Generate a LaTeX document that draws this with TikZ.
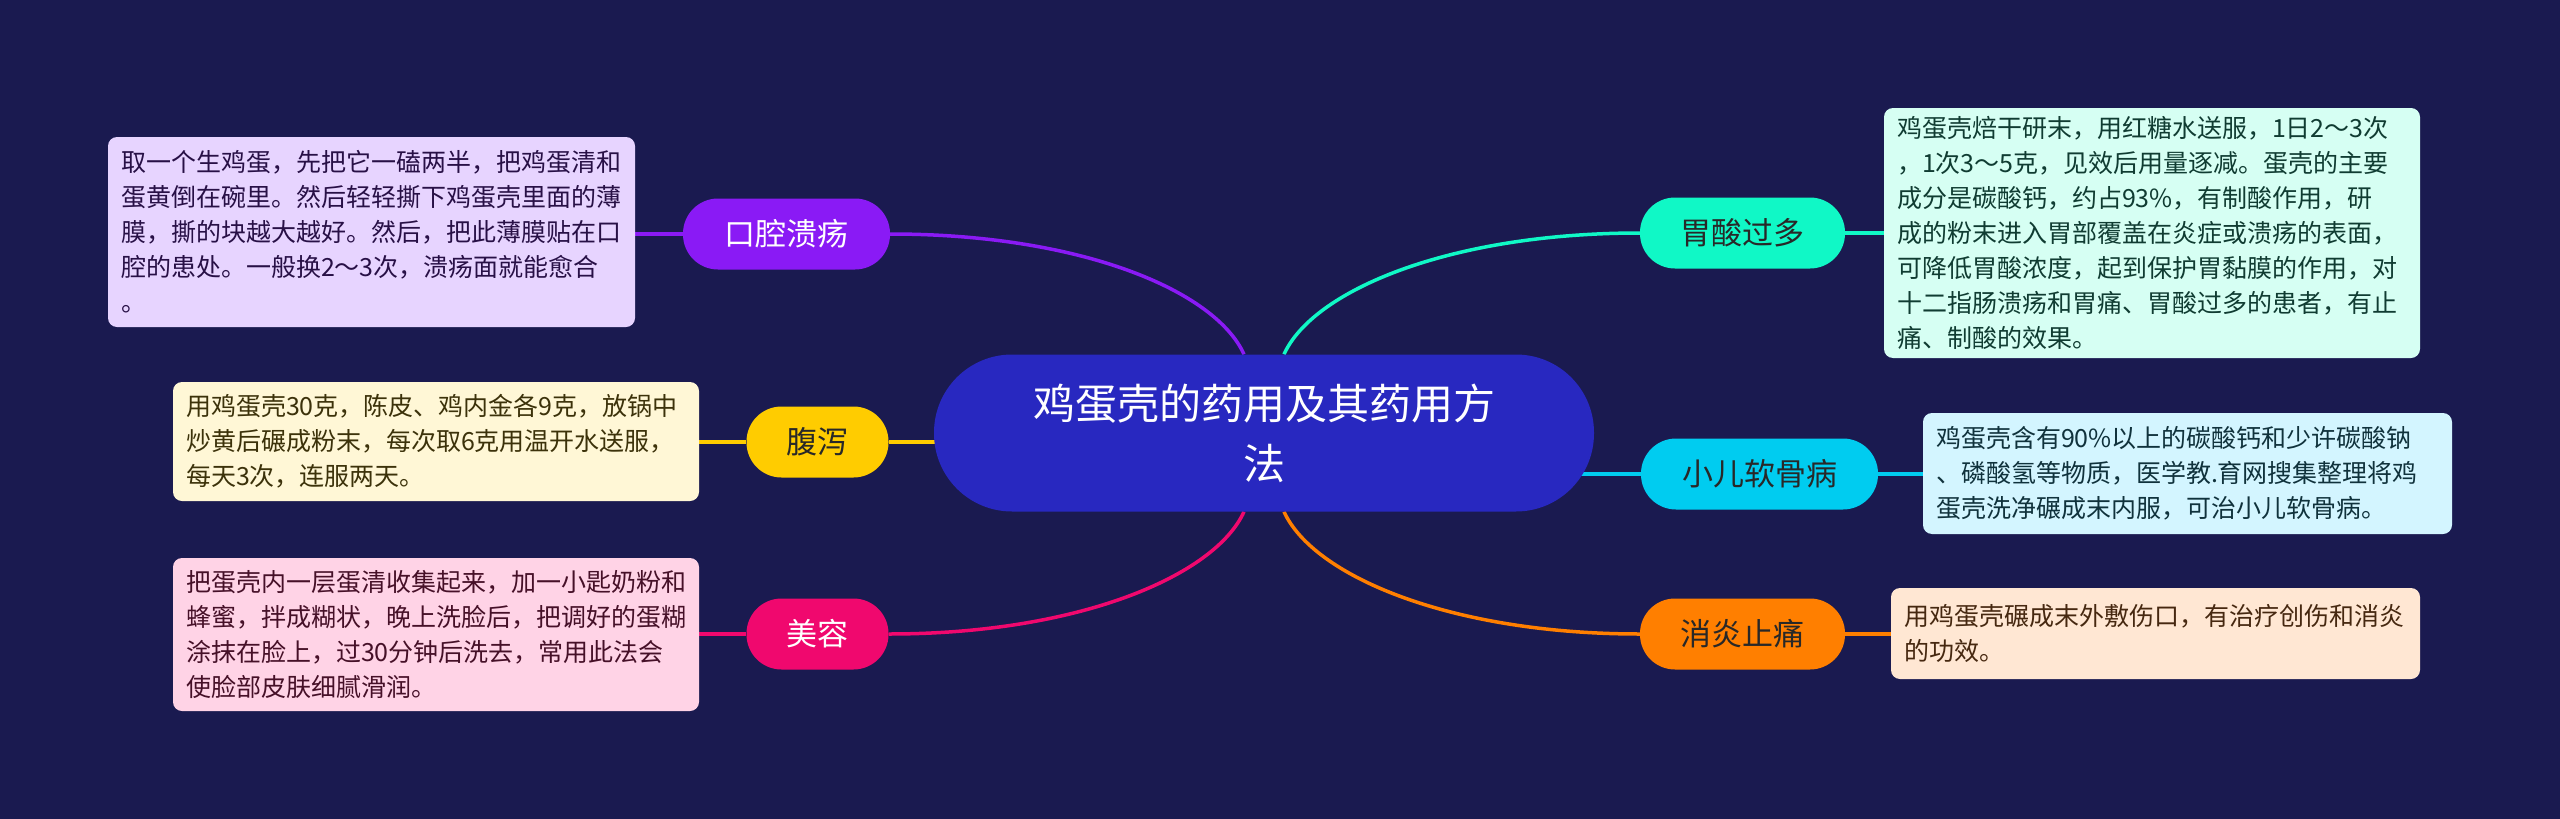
\documentclass[tikz,border=0pt]{standalone}
\usepackage{fontspec}
\setmainfont{Noto Sans CJK SC}
\usetikzlibrary{calc}
\pgfdeclarelayer{back}
\pgfdeclarelayer{bg}
\pgfsetlayers{back,bg,main}
\definecolor{bgnavy}{RGB}{26,26,80}
\definecolor{cmain}{RGB}{40,40,192}
\definecolor{cpurple}{RGB}{138,26,245}
\definecolor{cyellow}{RGB}{255,204,0}
\definecolor{cpink}{RGB}{240,8,110}
\definecolor{cteal}{RGB}{16,248,198}
\definecolor{ccyan}{RGB}{0,204,240}
\definecolor{corange}{RGB}{255,127,0}
\definecolor{lpurple}{RGB}{231,212,255}
\definecolor{lyellow}{RGB}{255,247,214}
\definecolor{lpink}{RGB}{255,211,230}
\definecolor{lteal}{RGB}{214,255,243}
\definecolor{lcyan}{RGB}{211,245,255}
\definecolor{lorange}{RGB}{255,231,211}
\definecolor{tpurple}{RGB}{40,16,70}
\definecolor{tyellow}{RGB}{60,50,10}
\definecolor{tpink}{RGB}{70,16,40}
\definecolor{tteal}{RGB}{16,60,50}
\definecolor{tcyan}{RGB}{16,50,60}
\definecolor{torange}{RGB}{70,40,16}
\definecolor{tdark}{RGB}{40,40,40}
\begin{document}
\begin{tikzpicture}[x=1pt,y=-1pt,
  centralbox/.style={fill=cmain, rounded corners=78pt, minimum width=660pt,
    minimum height=157pt, text=white, font=\fontsize{42}{60}\selectfont,
    align=center, inner sep=0pt},
  branchbox/.style={rounded corners=35pt, minimum height=71pt, inner xsep=40pt,
    inner ysep=0pt, font=\fontsize{31}{36}\selectfont},
  leafbox/.style={rounded corners=9pt, align=left, font=\fontsize{25}{35}\selectfont,
    inner xsep=13pt, inner ysep=0pt},
  link/.style={line width=3.5pt}
]
\begin{pgfonlayer}{back}
\fill[bgnavy] (0,0) rectangle (2560,819);
\end{pgfonlayer}
\useasboundingbox (0,0) rectangle (2560,819);

% central
\node[centralbox] (c) at (1264,433) {鸡蛋壳的药用及其药用方\\法};

% branches
\node[branchbox, fill=cpurple, text=white, minimum width=207pt] (b1) at (786.5,234) {口腔溃疡};
\node[branchbox, fill=cyellow, text=tdark, minimum width=139pt] (b2) at (817.5,442) {腹泻};
\node[branchbox, fill=cpink, text=white, minimum width=139pt] (b3) at (817.5,634) {美容};
\node[branchbox, fill=cteal, text=tdark, minimum width=205pt] (b4) at (1742.5,233) {胃酸过多};
\node[branchbox, fill=ccyan, text=tdark, minimum width=237pt] (b5) at (1759.5,474) {小儿软骨病};
\node[branchbox, fill=corange, text=tdark, minimum width=205pt] (b6) at (1742.5,634) {消炎止痛};

% leaves
\node[leafbox, fill=lpurple, text=tpurple, text width=501pt, minimum height=190pt] (l1) at (371.5,232)
  {取一个生鸡蛋，先把它一磕两半，把鸡蛋清和\\蛋黄倒在碗里。然后轻轻撕下鸡蛋壳里面的薄\\膜，撕的块越大越好。然后，把此薄膜贴在口\\腔的患处。一般换2～3次，溃疡面就能愈合\\。};
\node[leafbox, fill=lyellow, text=tyellow, text width=500pt, minimum height=119pt] (l2) at (436,441.5)
  {用鸡蛋壳30克，陈皮、鸡内金各9克，放锅中\\炒黄后碾成粉末，每次取6克用温开水送服，\\每天3次，连服两天。};
\node[leafbox, fill=lpink, text=tpink, text width=500pt, minimum height=153pt] (l3) at (436,634.5)
  {把蛋壳内一层蛋清收集起来，加一小匙奶粉和\\蜂蜜，拌成糊状，晚上洗脸后，把调好的蛋糊\\涂抹在脸上，过30分钟后洗去，常用此法会\\使脸部皮肤细腻滑润。};
\node[leafbox, fill=lteal, text=tteal, text width=510pt, minimum height=250pt] (l4) at (2152,233)
  {鸡蛋壳焙干研末，用红糖水送服，1日2～3次\\，1次3～5克，见效后用量逐减。蛋壳的主要\\成分是碳酸钙，约占93\%，有制酸作用，研\\成的粉末进入胃部覆盖在炎症或溃疡的表面，\\可降低胃酸浓度，起到保护胃黏膜的作用，对\\十二指肠溃疡和胃痛、胃酸过多的患者，有止\\痛、制酸的效果。};
\node[leafbox, fill=lcyan, text=tcyan, text width=503pt, minimum height=121pt] (l5) at (2187.5,473.5)
  {鸡蛋壳含有90\%以上的碳酸钙和少许碳酸钠\\、磷酸氢等物质，医学教.育网搜集整理将鸡\\蛋壳洗净碾成末内服，可治小儿软骨病。};
\node[leafbox, fill=lorange, text=torange, text width=503pt, minimum height=91pt] (l6) at (2155.5,633.5)
  {用鸡蛋壳碾成末外敷伤口，有治疗创伤和消炎\\的功效。};

% connectors
\begin{pgfonlayer}{bg}
\draw[link, cpurple] ($(c.north)+(-20,0)$) .. controls +(-29,-64) and +(190,0) .. (b1.east);
\draw[link, cteal] ($(c.north)+(20,0)$) .. controls +(29,-64) and +(-190,0) .. (b4.east -| b4.west);
\draw[link, cpink] ($(c.south)+(-20,0)$) .. controls +(-29,64) and +(190,0) .. (b3.east);
\draw[link, corange] ($(c.south)+(20,0)$) .. controls +(29,64) and +(-190,0) .. (b6.west);
\draw[link, cyellow] (b2.east) -- (b2.east -| c.center);
\draw[link, ccyan] (b5.west) -- (b5.west -| c.center);
\draw[link, cpurple] (b1.west) -- (b1.west -| l1.east);
\draw[link, cyellow] (b2.west) -- (b2.west -| l2.east);
\draw[link, cpink] (b3.west) -- (b3.west -| l3.east);
\draw[link, cteal] (b4.east) -- (b4.east -| l4.west);
\draw[link, ccyan] (b5.east) -- (b5.east -| l5.west);
\draw[link, corange] (b6.east) -- (b6.east -| l6.west);
\end{pgfonlayer}
\end{tikzpicture}
\end{document}
